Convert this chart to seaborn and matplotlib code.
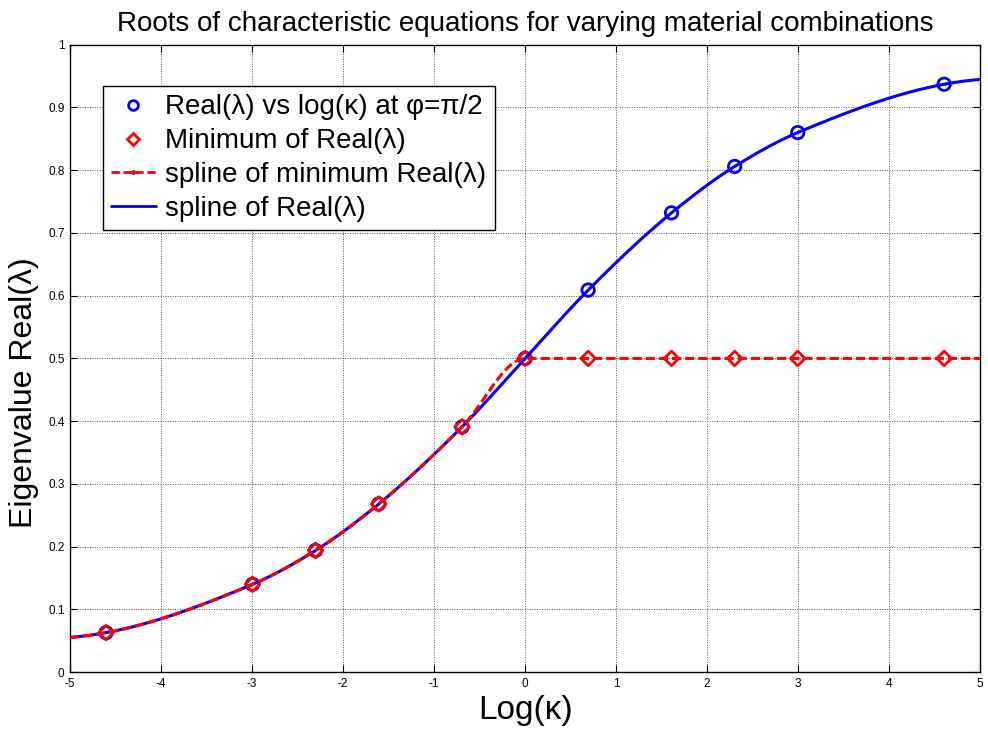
import numpy as np
import matplotlib
matplotlib.use("Agg")
import matplotlib.pyplot as plt
from matplotlib.lines import Line2D
import seaborn as sns

# log(kappa) sample positions and the computed roots
log_kappa = [-4.605, -2.996, -2.303, -1.609, -0.693, 0.0, 0.693, 1.609, 2.303, 2.996, 4.605]
real_lambda = [0.063, 0.140, 0.194, 0.268, 0.391, 0.500, 0.609, 0.732, 0.806, 0.860, 0.937]
min_real_lambda = [0.063, 0.140, 0.194, 0.268, 0.391, 0.500, 0.500, 0.500, 0.500, 0.500, 0.500]

x_ticks = [-5, -4, -3, -2, -1, 0, 1, 2, 3, 4, 5]
y_ticks = [0, 0.1, 0.2, 0.3, 0.4, 0.5, 0.6, 0.7, 0.8, 0.9, 1]
y_tick_labels = ["0", "0.1", "0.2", "0.3", "0.4", "0.5", "0.6", "0.7", "0.8", "0.9", "1"]


def pchip_slopes(xk, yk):
    """Shape-preserving (Fritsch-Carlson) derivative estimates at the knots."""
    h = np.diff(xk)
    delta = np.diff(yk) / h
    n = len(xk)
    d = np.zeros(n)
    for k in range(1, n - 1):
        if delta[k - 1] * delta[k] > 0:
            w1 = 2 * h[k] + h[k - 1]
            w2 = h[k] + 2 * h[k - 1]
            d[k] = (w1 + w2) / (w1 / delta[k - 1] + w2 / delta[k])

    def end_slope(h0, h1, d0, d1):
        s = ((2 * h0 + h1) * d0 - h0 * d1) / (h0 + h1)
        if np.sign(s) != np.sign(d0):
            s = 0.0
        elif np.sign(d0) != np.sign(d1) and abs(s) > abs(3 * d0):
            s = 3 * d0
        return s

    d[0] = end_slope(h[0], h[1], delta[0], delta[1])
    d[-1] = end_slope(h[-1], h[-2], delta[-1], delta[-2])
    return d


def pchip_eval(xk, yk, xq):
    xk = np.asarray(xk, float)
    yk = np.asarray(yk, float)
    d = pchip_slopes(xk, yk)
    n = len(xk)
    idx = np.clip(np.searchsorted(xk, xq) - 1, 0, n - 2)
    x0, x1 = xk[idx], xk[idx + 1]
    hh = x1 - x0
    t = (xq - x0) / hh
    h00 = 2 * t ** 3 - 3 * t ** 2 + 1
    h10 = t ** 3 - 2 * t ** 2 + t
    h01 = -2 * t ** 3 + 3 * t ** 2
    h11 = t ** 3 - t ** 2
    return h00 * yk[idx] + h10 * hh * d[idx] + h01 * yk[idx + 1] + h11 * hh * d[idx + 1]


sns.set_style("white")
plt.rcParams["font.family"] = ["Liberation Sans", "DejaVu Sans"]
plt.rcParams["text.color"] = "black"
plt.rcParams["axes.labelcolor"] = "black"

fig = plt.figure(figsize=(9.88, 7.33), dpi=100)
ax = fig.add_axes([0.071, 0.083, 0.921, 0.856])

xs = np.linspace(-5, 5, 401)
blue_curve = pchip_eval(log_kappa, real_lambda, xs)
red_curve = pchip_eval(log_kappa, min_real_lambda, xs)

sns.scatterplot(x=log_kappa, y=real_lambda, ax=ax, marker="o", s=80,
                facecolors="none", edgecolor="#0000ff", linewidth=2, zorder=3)
sns.scatterplot(x=log_kappa, y=min_real_lambda, ax=ax, marker="D", s=55,
                facecolors="none", edgecolor="#ff0000", linewidth=2, zorder=4)
sns.lineplot(x=xs, y=blue_curve, ax=ax, color="#0000ff", linewidth=2.2,
             estimator=None, sort=False, zorder=5)
sns.lineplot(x=xs, y=red_curve, ax=ax, color="#ff0000", linewidth=2.2,
             linestyle=(0, (3, 1.3)), estimator=None, sort=False, zorder=6)

ax.set_xlim(-5, 5)
ax.set_ylim(0, 1)
ax.set_xticks(x_ticks)
ax.set_xticklabels([str(t) for t in x_ticks])
ax.set_yticks(y_ticks)
ax.set_yticklabels(y_tick_labels)
ax.tick_params(axis="both", which="both", direction="in", length=5, width=0.8,
               labelsize=8.5, top=True, right=True, bottom=True, left=True,
               colors="black", pad=4)
ax.grid(True, linestyle=(0, (1, 1.5)), color="#555555", linewidth=0.7)
for side in ax.spines.values():
    side.set_visible(True)
    side.set_color("black")
    side.set_linewidth(1.0)

ax.set_title("Roots of characteristic equations for varying material combinations",
             fontsize=20, pad=10)
ax.set_xlabel("Log(κ)", fontsize=24, labelpad=4)
ax.set_ylabel("Eigenvalue Real(λ)", fontsize=23)
ax.yaxis.set_label_coords(-0.034, 0.445)

handles = [
    Line2D([], [], linestyle="none", marker="o", markersize=7, markerfacecolor="none",
           markeredgecolor="#0000ff", markeredgewidth=2),
    Line2D([], [], linestyle="none", marker="D", markersize=6, markerfacecolor="none",
           markeredgecolor="#ff0000", markeredgewidth=2),
    Line2D([], [], color="#ff0000", linestyle=(0, (3, 1.3)), linewidth=2, marker=".",
           markersize=5, markevery=[1]),
    Line2D([], [], color="#0000ff", linewidth=2),
]
labels = ["Real(λ) vs log(κ) at φ=π/2", "Minimum of Real(λ)",
          "spline of minimum Real(λ)", "spline of Real(λ)"]
leg = ax.legend(handles, labels, loc="upper left", bbox_to_anchor=(0.036, 0.934),
                fontsize=20, frameon=True, fancybox=False, framealpha=1,
                edgecolor="black", borderpad=0.3, labelspacing=0.28,
                handlelength=1.6, handletextpad=0.35, borderaxespad=0)
leg.get_frame().set_linewidth(1.0)

fig.savefig("out.png", dpi=100, facecolor="white")
